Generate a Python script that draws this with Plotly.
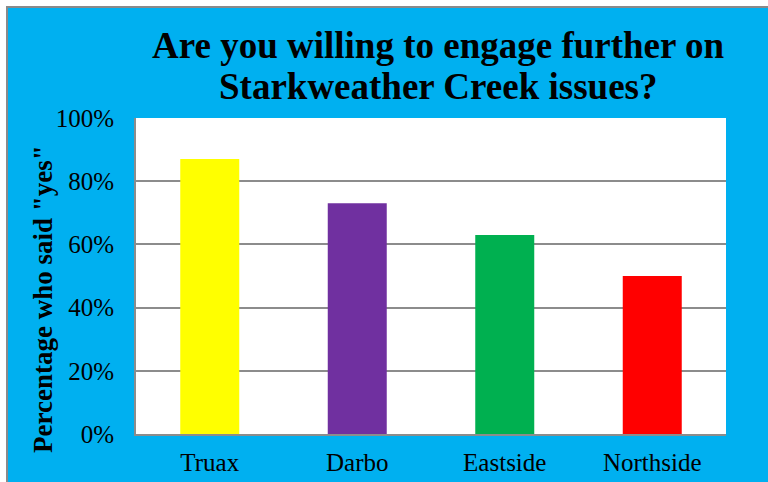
import plotly.graph_objects as go

# Survey results by neighbourhood
neighbourhoods = ["Truax", "Darbo", "Eastside", "Northside"]
pct_yes = [87, 73, 63, 50]
bar_colors = ["#FFFF00", "#7030A0", "#00B050", "#FF0000"]
y_ticks = [0, 20, 40, 60, 80, 100]
y_tick_labels = [f"{v}%" for v in y_ticks]

title_lines = ["Are you willing to engage further on", "Starkweather Creek issues?"]
y_title = 'Percentage who said "yes"'

SERIF = "Liberation Serif, Times New Roman, serif"
BLUE = "#00B0F0"
GRID = "#8C8C8C"

fig = go.Figure(
    go.Bar(
        x=neighbourhoods,
        y=pct_yes,
        marker=dict(color=bar_colors, line=dict(width=0)),
        width=0.4,
    )
)

# plot area spans x 136..726 px, y 118..434 px
L, R, T, B = 136, 42, 118, 48
W, H = 768, 482
pw, ph = W - L - R, H - T - B


def px(x):
    return (x - L) / pw


def py(y):
    return (H - B - y) / ph


annotations = [
    dict(
        text=f"<b>{line}</b>", xref="paper", yref="paper",
        x=px(438), y=py(yc), xanchor="center", yanchor="middle",
        showarrow=False, font=dict(size=37, family=SERIF, color="black"),
    )
    for line, yc in zip(title_lines, [46, 87])
]
annotations.append(
    dict(
        text=f"<b>{y_title}</b>", xref="paper", yref="paper",
        x=px(43), y=py(299), xanchor="center", yanchor="middle",
        textangle=-90, showarrow=False,
        font=dict(size=27, family=SERIF, color="black"),
    )
)

fig.update_layout(
    width=W,
    height=H,
    margin=dict(l=L, r=R, t=T, b=B),
    paper_bgcolor="white",
    plot_bgcolor="white",
    showlegend=False,
    font=dict(family=SERIF, color="black"),
    shapes=[
        # blue chart panel with grey frame
        dict(
            type="rect", xref="paper", yref="paper", layer="below",
            x0=px(7), x1=px(772), y0=py(486), y1=py(7),
            fillcolor=BLUE, line=dict(color="#8A8A8A", width=2),
        ),
        # white plotting area
        dict(
            type="rect", xref="paper", yref="paper", layer="below",
            x0=0, x1=1, y0=0, y1=1,
            fillcolor="white", line=dict(width=0),
        ),
    ],
    annotations=annotations,
)

fig.update_xaxes(
    showline=True, linecolor=GRID, linewidth=2, mirror=False,
    showgrid=False, ticks="", tickfont=dict(size=25, family=SERIF),
    ticklabelstandoff=5, automargin=False,
)
fig.update_yaxes(
    range=[0, 100], tickvals=y_ticks, ticktext=y_tick_labels,
    showline=True, linecolor=GRID, linewidth=2,
    showgrid=True, gridcolor=GRID, gridwidth=2,
    ticks="", tickfont=dict(size=25, family=SERIF),
    ticklabelstandoff=15, zeroline=False, automargin=False,
)

fig.write_html("out.html")
